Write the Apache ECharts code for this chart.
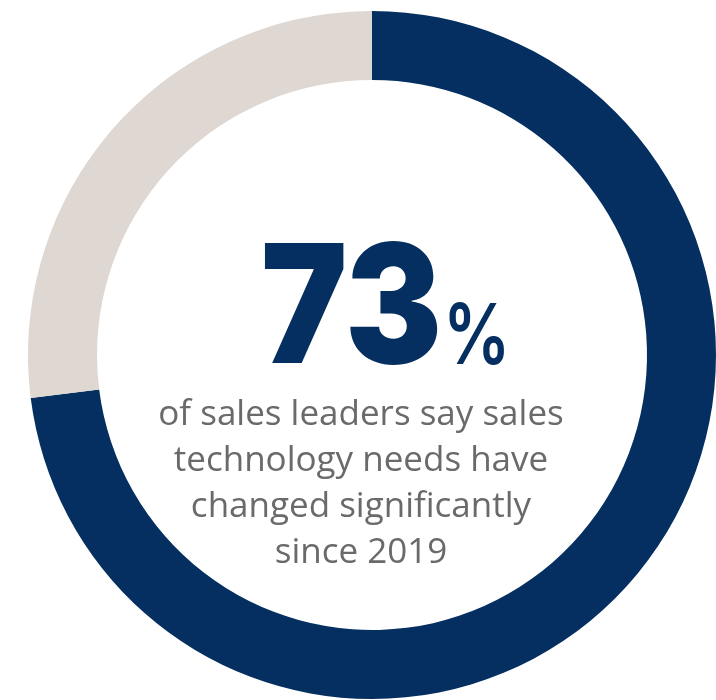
<!DOCTYPE html>
<html>
<head>
<meta charset="utf-8">
<script src="https://cdn.jsdelivr.net/npm/echarts@6/dist/echarts.min.js"></script>
<style>
  html, body { margin: 0; padding: 0; background: #fff; }
  #chart { width: 716px; height: 700px; }
</style>
</head>
<body>
<div id="chart"></div>
<script>
// share of sales leaders, rest
var sliceNames = ['changed', 'other'];
var sliceValues = [73, 27];
var sliceColors = ['#042f60', '#ded7d2'];
var bigNumber = '73';
var captionLines = ['of sales leaders say sales', 'technology needs have', 'changed significantly', 'since 2019'];

var chart = echarts.init(document.getElementById('chart'));

var option = {
  animation: false,
  series: [{
    type: 'pie',
    center: [372, 355],
    radius: [275, 344],
    startAngle: 90,
    clockwise: true,
    silent: true,
    label: { show: false },
    labelLine: { show: false },
    data: sliceValues.map(function (v, i) {
      return { name: sliceNames[i], value: v, itemStyle: { color: sliceColors[i] } };
    })
  }],
  graphic: [
    {
      // big number, squeezed a bit to get the narrow heavy look
      type: 'text',
      x: 261,
      y: 231,
      scaleX: 0.88,
      style: {
        text: bigNumber,
        fontFamily: 'Inter',
        fontWeight: 900,
        fontSize: 165,
        lineHeight: 165,
        fill: '#042f60',
        verticalAlign: 'top'
      }
    },
    {
      type: 'text',
      x: 443,
      y: 297,
      scaleX: 0.8,
      style: {
        text: '%',
        fontFamily: 'Inter',
        fontWeight: 600,
        fontSize: 84,
        lineHeight: 84,
        fill: '#042f60',
        verticalAlign: 'top'
      }
    },
    {
      type: 'text',
      x: 361,
      y: 392,
      style: {
        text: captionLines.join('\n'),
        fontFamily: 'Open Sans',
        fontWeight: 500,
        fontSize: 35,
        lineHeight: 46,
        fill: '#6a6a6a',
        align: 'center',
        verticalAlign: 'top'
      }
    }
  ]
};

chart.setOption(option);
</script>
</body>
</html>
